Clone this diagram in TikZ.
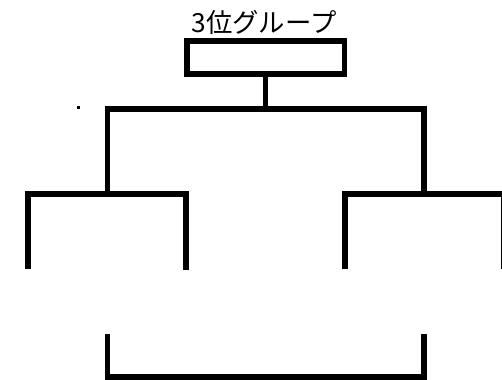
\documentclass[tikz,border=0pt]{standalone}
\usepackage{fontspec}
\newfontfamily\jpfont{Noto Sans CJK JP}
\usepackage{tikz}

\begin{document}
\begin{tikzpicture}[x=0.02cm,y=-0.02cm,line width=3.4pt]
\clip (0,0) rectangle (502,379);
\node (title) at (264,22)
{\jpfont\fontsize{15pt}{18pt}\selectfont 3位グループ};
\node[draw,minimum width=3.16cm,minimum height=0.66cm,inner sep=0pt] (third) at (265.5,57.5) {};
\coordinate (J) at (265.5,109);
\coordinate (QL) at (107.5,194);
\coordinate (QR) at (424,194);
\coordinate (L1) at (28,269);
\coordinate (L2) at (186,270);
\coordinate (R1) at (345,269);
\coordinate (R2) at (504,269);
\coordinate (B1) at (107.5,334);
\coordinate (BM) at (265.5,377);
\coordinate (B2) at (424,334);

\draw (third) -- (J);
\draw (QL) |- (J) -| (QR);
\draw (L1) |- (QL) -| (L2);
\draw (R1) |- (QR) -| (R2);
\draw (B1) |- (BM) -| (B2);
\fill (77,106) rectangle (80,109);
\end{tikzpicture}
\end{document}
